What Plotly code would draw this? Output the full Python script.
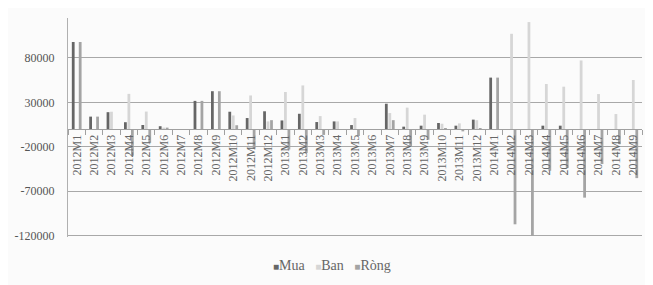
import plotly.graph_objects as go

categories = ["2012M1","2012M2","2012M3","2012M4","2012M5","2012M6","2012M7","2012M8","2012M9",
              "2012M10","2012M11","2012M12","2013M1","2013M2","2013M3","2013M4","2013M5","2013M6",
              "2013M7","2013M8","2013M9","2013M10","2013M11","2013M12","2014M1","2014M2","2014M3",
              "2014M4","2014M5","2014M6","2014M7","2014M8","2014M9"]

mua = [98000, 14000, 19000, 7700, 4600, 3200, 0, 31700, 42600,
       19500, 12400, 20000, 9700, 17200, 7900, 8600, 4500, 0,
       28500, 2700, 3800, 6800, 3800, 10600, 57900, 0, 0,
       3800, 3800, 0, 0, 0, 0]
ban = [0, 0, 19500, 39600, 19700, 1600, 0, 0, 0,
       15300, 37800, 8600, 41700, 49100, 14600, 8600, 12400, 0,
       18000, 24100, 16200, 6000, 6400, 10000, 0, 107200, 120400,
       50700, 47700, 77200, 39400, 16900, 55200]
rong = [98000, 14000, -600, -30000, -15500, 1600, 0, 31700, 42600,
        4300, -22000, 10000, -23000, -27000, -6600, 0, -7800, 0,
        10000, -20000, -12000, 800, -2600, 600, 57900, -107200, -120400,
        -46900, -43900, -77200, -39400, -16900, -55200]

series_names = ["Mua", "Ban", "Ròng"]
series_colors = ["#666666", "#d6d6d6", "#a4a4a4"]

y_ticks = [-120000, -70000, -20000, 30000, 80000]
y_min, y_max = -121500, 125000

font_family = "Liberation Serif, Times New Roman, serif"

fig = go.Figure()
for name, vals, col in zip(series_names, [mua, ban, rong], series_colors):
    fig.add_trace(go.Bar(name=name, x=categories, y=vals, marker_color=col,
                         marker_line_width=0, showlegend=False))

zero_pos = (0 - y_min) / (y_max - y_min)

legend_text = "&nbsp;&nbsp;&nbsp;".join(
    f"<span style='color:{c};font-size:10px'>■</span>{n}" for n, c in zip(series_names, series_colors)
)

# page body has an 8px default margin, so the figure is sized/offset to fit the window
fig.update_layout(
    width=645, height=277,
    margin=dict(l=60, r=11, t=10, b=48, autoexpand=False),
    paper_bgcolor="#fbfbfb", plot_bgcolor="#fbfbfb",
    barmode="group", bargap=0.4, bargroupgap=0.2,
    font=dict(family=font_family, size=11, color="#555555"),
    xaxis=dict(
        type="category", anchor="free", position=zero_pos, automargin=False,
        showline=True, linecolor="#a0a0a0", linewidth=1,
        ticks="outside", tickson="boundaries", ticklen=5, tickcolor="#a0a0a0",
        tickangle=-90, showgrid=False,
        tickfont=dict(family=font_family, size=12, color="#666666"),
    ),
    yaxis=dict(
        range=[y_min, y_max], tickvals=y_ticks, ticktext=[str(v) for v in y_ticks],
        showgrid=True, gridcolor="#a8a8a8", gridwidth=1, zeroline=False,
        showline=True, linecolor="#b0b0b0", linewidth=1, automargin=False,
        ticks="", ticklabelstandoff=10,
        tickfont=dict(family=font_family, size=12, color="#555555"),
    ),
    annotations=[dict(
        text=legend_text, xref="paper", yref="paper", x=0.46, y=-0.128,
        xanchor="center", yanchor="middle", showarrow=False,
        font=dict(family=font_family, size=14, color="#666666"),
    )],
)

fig.write_html("out.html")
